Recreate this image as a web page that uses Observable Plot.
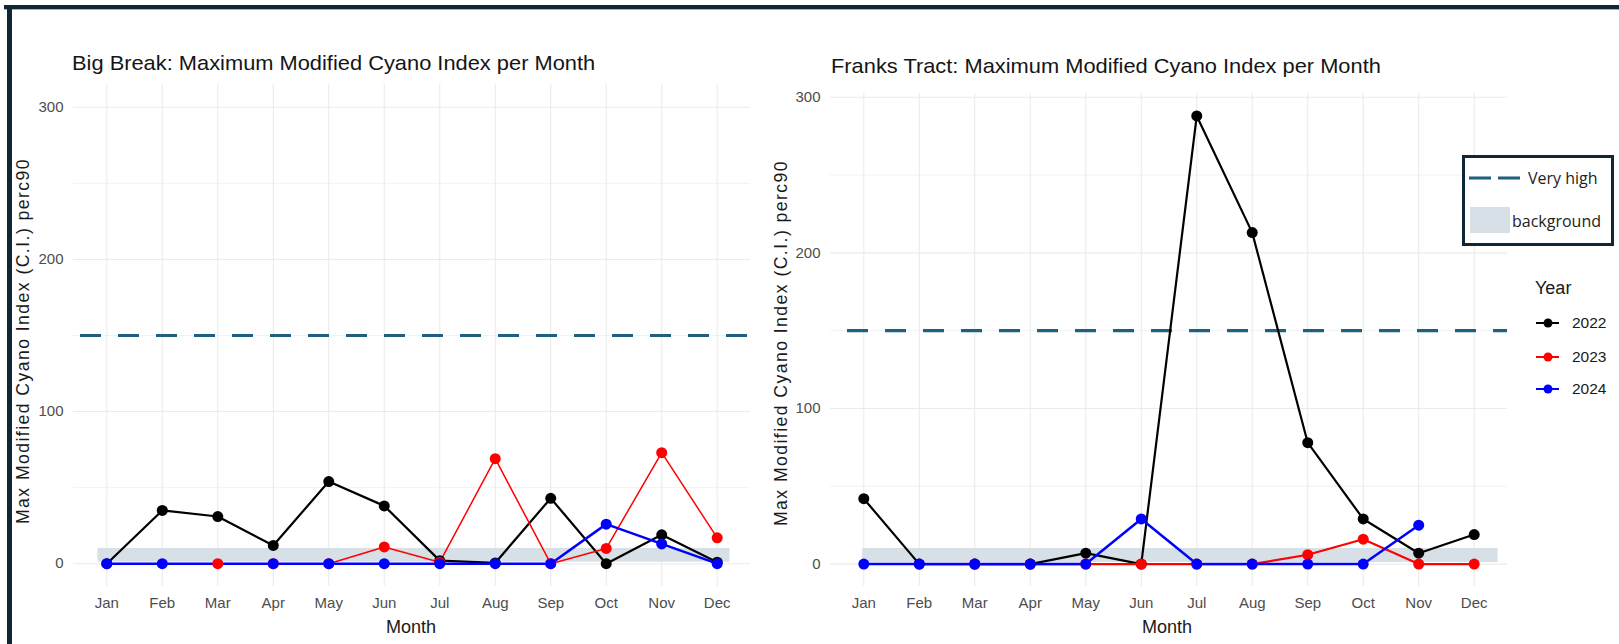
<!DOCTYPE html>
<html>
<head>
<meta charset="utf-8">
<script src="https://cdn.jsdelivr.net/npm/d3@7"></script>
<script src="https://cdn.jsdelivr.net/npm/@observablehq/plot@0.6"></script>
<style>
  html, body { margin: 0; padding: 0; background: #ffffff; }
  #wrap { position: relative; width: 1619px; height: 644px; overflow: hidden; background: #ffffff;
          font-family: "Liberation Sans", Arial, sans-serif; }
  .abs { position: absolute; white-space: nowrap; }
  .title { font-size: 21px; color: #151515; transform-origin: left center; transform: translateY(-50%) scaleX(1.04); }
  .ylab { font-size: 17.6px; color: #1a1a1a; letter-spacing: 1.45px; transform: translate(-50%, -50%) rotate(-90deg); }
  .xlab { font-size: 19px; color: #1a1a1a; transform: translate(-50%, -50%) scaleX(0.95); }
  .legbox { border: 3px solid #0e2636; background: #ffffff; box-sizing: border-box; }
  .legtxt { font-family: "Open Sans", "Noto Sans", sans-serif; font-size: 16px; color: #222; transform: translateY(-50%); }
  .yrtitle { font-size: 18px; color: #1a1a1a; transform: translateY(-50%); }
  .yrtxt { font-size: 15.5px; color: #1a1a1a; transform: translateY(-50%); }
</style>
</head>
<body>
<div id="wrap"></div>
<script>
// ---------------- data ----------------
const months = ["Jan", "Feb", "Mar", "Apr", "May", "Jun", "Jul", "Aug", "Sep", "Oct", "Nov", "Dec"];
const years = ["2022", "2023", "2024"];
const yearColors = ["#000000", "#ff0000", "#0000ff"];

// Big Break
const bigBreak2022 = [0, 35, 31, 12, 54, 38, 2, 0.5, 43, 0, 19, 1];
const bigBreak2023 = [null, null, 0, 0, 0, 11, 1, 69, 0, 10, 73, 17];
const bigBreak2024 = [0, 0, null, 0, 0, 0, 0, 0, 0, 26, 13, 0];

// Franks Tract
const franks2022 = [42, 0, 0, 0, 7, 0, 288, 213, 78, 29, 7, 19];
const franks2023 = [null, null, 0, 0, 0, 0, 0, 0, 6, 16, 0, 0];
const franks2024 = [0, 0, 0, 0, 0, 29, 0, 0, 0, 0, 25, null];

const yMajorTicks = [0, 100, 200, 300];
const yMinorTicks = [50, 150, 250];
const veryHighLevel = 150;
const backgroundRange = [1, 10];

const titles = ["Big Break: Maximum Modified Cyano Index per Month",
                "Franks Tract: Maximum Modified Cyano Index per Month"];
const yTitle = "Max Modified Cyano Index (C.I.) perc90";
const xTitle = "Month";
const legendLabels = ["Very high", "background"];
const legendTitle = "Year";

// ---------------- styles ----------------
const dashColor = "#1f5f7f";
const bandColor = "#d6e0e6";
const gridColor = "#ebebeb";
const tickFont = "Liberation Sans, Arial, sans-serif";

const wrap = document.getElementById("wrap");
function addDiv(cls, text, left, top, extra) {
  const d = document.createElement("div");
  d.className = "abs " + cls;
  if (text != null) d.textContent = text;
  d.style.left = left + "px";
  d.style.top = top + "px";
  if (extra) Object.assign(d.style, extra);
  wrap.appendChild(d);
  return d;
}

function makePanel(cfg) {
  const rows = [];
  cfg.series.forEach((vals, k) => {
    vals.forEach((v, i) => { if (v != null) rows.push({ month: i + 1, value: v, year: years[k] }); });
  });
  const monthIdx = months.map((m, i) => i + 1);
  const marks = [
    Plot.gridY(yMinorTicks, { stroke: gridColor, strokeOpacity: 1, strokeWidth: 0.6 }),
    Plot.gridY(yMajorTicks, { stroke: gridColor, strokeOpacity: 1, strokeWidth: 1.1 }),
    Plot.gridX(monthIdx, { stroke: gridColor, strokeOpacity: 1, strokeWidth: 1.1 }),
    Plot.rect([{ x1: cfg.band[0], x2: cfg.band[1], y1: backgroundRange[0], y2: backgroundRange[1] }],
      { x1: "x1", x2: "x2", y1: "y1", y2: "y2", fill: bandColor }),
    Plot.ruleY([veryHighLevel], { stroke: dashColor, strokeWidth: 3.2, strokeDasharray: "21,17", strokeDashoffset: cfg.dashOffset }),
    ...years.map((y, k) => Plot.line(rows.filter(r => r.year === y),
      { x: "month", y: "value", stroke: yearColors[k], strokeWidth: cfg.widths[k] })),
    ...years.map((y, k) => Plot.dot(rows.filter(r => r.year === y),
      { x: "month", y: "value", fill: yearColors[k], r: 5.5 })),
    Plot.axisX({ ticks: monthIdx, tickFormat: i => months[i - 1], tickSize: 0, tickPadding: 11,
      fontSize: 15, fill: "#4d4d4d", label: null }),
    Plot.axisY({ ticks: yMajorTicks, tickSize: 0, tickPadding: 10, fontSize: 15, fill: "#4d4d4d", label: null })
  ];
  const svg = Plot.plot({
    width: cfg.width, height: cfg.height,
    marginLeft: cfg.mL, marginRight: cfg.mR, marginTop: cfg.mT, marginBottom: cfg.mB,
    x: { type: "linear", domain: [0.4, 12.6] },
    y: { domain: cfg.yDomain },
    style: { fontFamily: tickFont, background: "transparent", overflow: "visible" },
    marks
  });
  svg.style.position = "absolute";
  svg.style.left = cfg.left + "px";
  svg.style.top = "0px";
  wrap.appendChild(svg);
}

makePanel({
  series: [bigBreak2022, bigBreak2023, bigBreak2024],
  band: [0.84, 12.23], yDomain: [-15, 315], dashOffset: 31, widths: [2.2, 1.5, 2.5],
  left: 0, width: 760, height: 644, mL: 73, mR: 10, mT: 84, mB: 58
});
makePanel({
  series: [franks2022, franks2023, franks2024],
  band: [0.98, 12.43], yDomain: [-14.4, 302.4], dashOffset: 21, widths: [2.2, 2.2, 2.5],
  left: 760, width: 859, height: 644, mL: 70, mR: 112, mT: 93, mB: 58
});

// titles and axis titles
addDiv("title", titles[0], 72, 63);
addDiv("title", titles[1], 831, 66);
addDiv("ylab", yTitle, 23, 341);
addDiv("ylab", yTitle, 781, 343);
addDiv("xlab", xTitle, 411, 627);
addDiv("xlab", xTitle, 1167, 627);

// frame border
addDiv("", null, 4, 5, { width: "1615px", height: "4px", background: "#0e2636" });
addDiv("", null, 4, 9, { width: "1615px", height: "1px", background: "#9fb3bd" });
addDiv("", null, 7, 5, { width: "5px", height: "639px", background: "#0e2636" });

// reference-level legend box
addDiv("legbox", null, 1462, 155, { width: "152px", height: "91px" });
const dashSvg = d3.create("svg").attr("width", 54).attr("height", 8)
  .style("position", "absolute").style("left", "1469px").style("top", "174px");
dashSvg.append("line").attr("x1", 0).attr("x2", 52).attr("y1", 4).attr("y2", 4)
  .attr("stroke", dashColor).attr("stroke-width", 3.2).attr("stroke-dasharray", "22,7");
wrap.appendChild(dashSvg.node());
addDiv("legtxt", legendLabels[0], 1528, 178);
addDiv("", null, 1470, 207, { width: "40px", height: "26px", background: bandColor });
addDiv("legtxt", legendLabels[1], 1512, 221);

// Year legend
addDiv("yrtitle", legendTitle, 1535, 288);
const yrY = [323, 357, 389];
years.forEach((y, k) => {
  const s = d3.create("svg").attr("width", 26).attr("height", 14)
    .style("position", "absolute").style("left", "1535px").style("top", (yrY[k] - 7) + "px");
  s.append("line").attr("x1", 1).attr("x2", 24).attr("y1", 7).attr("y2", 7)
    .attr("stroke", yearColors[k]).attr("stroke-width", 2);
  s.append("circle").attr("cx", 13).attr("cy", 7).attr("r", 4.5).attr("fill", yearColors[k]);
  wrap.appendChild(s.node());
  addDiv("yrtxt", y, 1572, yrY[k]);
});
</script>
</body>
</html>
